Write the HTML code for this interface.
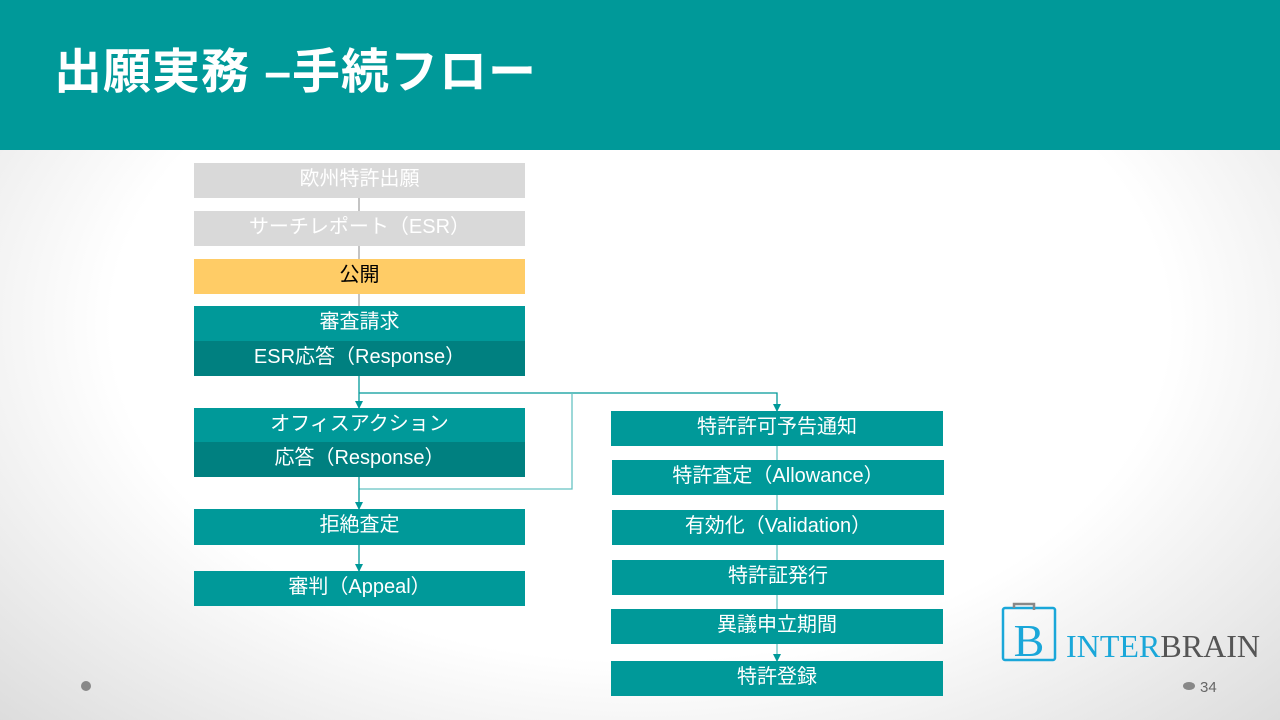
<!DOCTYPE html>
<html><head><meta charset="utf-8"><style>
body{margin:0;width:1280px;height:720px;overflow:hidden;position:relative;font-family:"Liberation Sans","Noto Sans CJK JP",sans-serif;background:radial-gradient(ellipse 75% 85% at 50% 45%,#fff 55%,#d6d6d6 100%);}
.hdr{position:absolute;left:0;top:0;width:1280px;height:150px;background:#009999;}
.hdr h1{position:absolute;left:54px;top:32px;margin:0;color:#fff;font-size:48px;font-weight:bold;letter-spacing:1px}
.b{position:absolute;height:35px;line-height:33px;text-align:center;color:#fff;font-size:20px;background:#009999}
.g{background:#d9d9d9}.y{background:#ffcc66;color:#000}.d{background:#008080}
.l{left:194px;width:331px}
svg{position:absolute;left:0;top:0}
</style></head><body>
<div class="hdr"><h1>出願実務 –手続フロー</h1></div>
<svg width="1280" height="720">
<defs><marker id="a" markerWidth="8" markerHeight="8" refX="7" refY="4" orient="auto" markerUnits="userSpaceOnUse"><path d="M0,0 L8,4 L0,8z" fill="#009999"/></marker></defs>
<g stroke="#888" stroke-width="1"><line x1="359" y1="198" x2="359" y2="211"/><line x1="359" y1="246" x2="359" y2="259"/><line x1="359" y1="294" x2="359" y2="306"/></g>
<g stroke="#009999" stroke-width="1.3" fill="none">
<line x1="359" y1="376" x2="359" y2="408" marker-end="url(#a)"/>
<polyline points="359,393 777,393 777,411" marker-end="url(#a)"/>
<polyline points="572,393 572,489 359,489" stroke="#66c2c2"/>
<line x1="359" y1="477" x2="359" y2="509" marker-end="url(#a)"/>
<line x1="359" y1="545" x2="359" y2="571" marker-end="url(#a)"/>
<line x1="777" y1="446" x2="777" y2="661" stroke="#66c2c2" marker-end="url(#a)"/>
</g>
<circle cx="86" cy="686" r="5" fill="#888"/>
<ellipse cx="1189" cy="686" rx="6" ry="4" fill="#888"/>
<text x="1200" y="692" font-size="15" fill="#666" font-family="Liberation Sans">34</text>
<rect x="1003" y="608" width="52" height="52" fill="none" stroke="#1aa7d9" stroke-width="2.5" rx="2"/>
<path d="M1014 608 v-4 h20 v6" fill="none" stroke="#888" stroke-width="2.5"/>
<text x="1029" y="656" font-size="46" fill="#1aa7d9" text-anchor="middle" font-family="Liberation Serif">B</text>
<text x="1066" y="657" font-size="32" fill="#1aa7d9" font-family="Liberation Serif" textLength="194">INTER<tspan fill="#555">BRAIN</tspan></text>
</svg>
<div class="b g l" style="top:163px">欧州特許出願</div>
<div class="b g l" style="top:211px">サーチレポート（ESR）</div>
<div class="b y l" style="top:259px">公開</div>
<div class="b l" style="top:306px">審査請求</div>
<div class="b d l" style="top:341px">ESR応答（Response）</div>
<div class="b l" style="top:408px;height:34px">オフィスアクション</div>
<div class="b d l" style="top:442px">応答（Response）</div>
<div class="b l" style="top:509px;height:36px">拒絶査定</div>
<div class="b l" style="top:571px">審判（Appeal）</div>
<div class="b" style="left:611px;width:332px;top:411px">特許許可予告通知</div>
<div class="b" style="left:612px;width:332px;top:460px">特許査定（Allowance）</div>
<div class="b" style="left:612px;width:332px;top:510px">有効化（Validation）</div>
<div class="b" style="left:612px;width:332px;top:560px">特許証発行</div>
<div class="b" style="left:611px;width:332px;top:609px">異議申立期間</div>
<div class="b" style="left:611px;width:332px;top:661px">特許登録</div>
</body></html>
